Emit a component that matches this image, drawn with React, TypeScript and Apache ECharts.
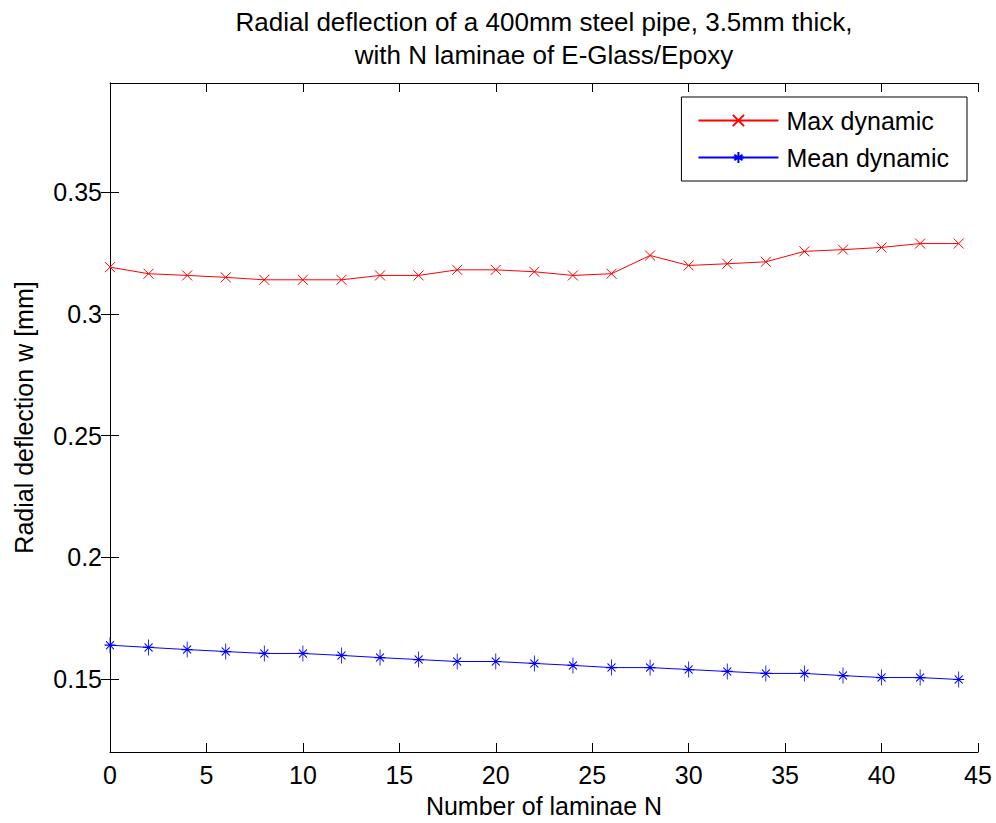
import React, { useEffect, useRef } from "react";
import * as echarts from "echarts";

const laminae = [0, 2, 4, 6, 8, 10, 12, 14, 16, 18, 20, 22, 24, 26, 28, 30, 32, 34, 36, 38, 40, 42, 44];
const maxDynamic = [0.3193, 0.3166, 0.3159, 0.3151, 0.3141, 0.3141, 0.3141, 0.3159, 0.3159, 0.3182, 0.3182, 0.3174, 0.3159, 0.3166, 0.3241, 0.32, 0.3207, 0.3215, 0.3258, 0.3265, 0.3274, 0.329, 0.329];
const meanDynamic = [0.1639, 0.163, 0.1621, 0.1613, 0.1605, 0.1605, 0.1597, 0.1588, 0.158, 0.1572, 0.1572, 0.1564, 0.1556, 0.1547, 0.1547, 0.1539, 0.1531, 0.1523, 0.1523, 0.1514, 0.1506, 0.1506, 0.1498];
const yTicks = [0.15, 0.2, 0.25, 0.3, 0.35];

const FONT = "Liberation Sans, Arial, sans-serif";
const X_SYMBOL = "path://M0,0L10,10M10,0L0,10";
const STAR_SYMBOL = "path://M5.5,0L5.5,16M0,8L11,8M1.5,4L9.5,12M9.5,4L1.5,12";

export default function App() {
  const ref = useRef<HTMLDivElement>(null);
  useEffect(() => {
    if (!ref.current) return;
    const chart = echarts.init(ref.current, null, { renderer: "svg" });
    const axisLine = { show: true, lineStyle: { color: "#000", width: 1 } };
    const fmt = (v: number) => String(Math.round(v * 100) / 100);
    chart.setOption({
      animation: false,
      backgroundColor: "#fff",
      title: {
        text: "Radial deflection of a 400mm steel pipe, 3.5mm thick,\nwith N laminae of E-Glass/Epoxy",
        left: 544,
        top: 5,
        textAlign: "center",
        padding: 0,
        textStyle: { fontFamily: FONT, fontSize: 26, fontWeight: "normal", color: "#000", lineHeight: 33 },
      },
      grid: { left: 110, right: 18, top: 83, bottom: 70, containLabel: false },
      legend: {
        orient: "vertical",
        right: 29,
        top: 97,
        padding: [11, 18, 11, 16],
        itemWidth: 80,
        itemHeight: 14,
        itemGap: 12,
        borderColor: "#000",
        borderWidth: 1,
        backgroundColor: "#fff",
        textStyle: { fontFamily: FONT, fontSize: 25, color: "#000", padding: [0, 0, 0, 3] },
        data: ["Max dynamic", "Mean dynamic"],
      },
      xAxis: [
        {
          type: "value",
          min: 0,
          max: 45,
          interval: 5,
          position: "bottom",
          name: "Number of laminae N",
          nameLocation: "middle",
          nameGap: 41,
          nameTextStyle: { fontFamily: FONT, fontSize: 25, color: "#000" },
          axisLine,
          axisTick: { show: true, inside: true, length: 9, lineStyle: { color: "#000" } },
          axisLabel: { fontFamily: FONT, fontSize: 25, color: "#000", margin: 10 },
          splitLine: { show: false },
        },
        {
          type: "value",
          min: 0,
          max: 45,
          interval: 5,
          position: "top",
          axisLine,
          axisTick: { show: true, inside: true, length: 9, lineStyle: { color: "#000" } },
          axisLabel: { show: false },
          splitLine: { show: false },
        },
      ],
      yAxis: [
        {
          type: "value",
          min: 0.12,
          max: 0.395,
          position: "left",
          name: "Radial deflection w [mm]",
          nameLocation: "middle",
          nameGap: 74,
          nameTextStyle: { fontFamily: FONT, fontSize: 25, color: "#000" },
          axisLine,
          axisTick: { show: true, inside: true, length: 9, customValues: yTicks, lineStyle: { color: "#000" } },
          axisLabel: { fontFamily: FONT, fontSize: 25, color: "#000", margin: 8, customValues: yTicks, formatter: fmt },
          splitLine: { show: false },
        },
        {
          type: "value",
          min: 0.12,
          max: 0.395,
          position: "right",
          axisLine,
          axisTick: { show: true, inside: true, length: 9, customValues: yTicks, lineStyle: { color: "#000" } },
          axisLabel: { show: false },
          splitLine: { show: false },
        },
      ],
      series: [
        {
          name: "Max dynamic",
          type: "line",
          xAxisIndex: 0,
          yAxisIndex: 0,
          data: laminae.map((x, i) => [x, maxDynamic[i]]),
          symbol: X_SYMBOL,
          symbolSize: 10,
          showAllSymbol: true,
          lineStyle: { color: "#ff0000", width: 1 },
          itemStyle: { color: "rgba(0,0,0,0)", borderColor: "#ff0000", borderWidth: 1 },
        },
        {
          name: "Mean dynamic",
          type: "line",
          xAxisIndex: 0,
          yAxisIndex: 0,
          data: laminae.map((x, i) => [x, meanDynamic[i]]),
          symbol: STAR_SYMBOL,
          symbolSize: [11, 16],
          showAllSymbol: true,
          lineStyle: { color: "#0000ff", width: 1 },
          itemStyle: { color: "rgba(0,0,0,0)", borderColor: "#0000ff", borderWidth: 1 },
        },
      ],
    });
    return () => chart.dispose();
  }, []);
  return <div ref={ref} style={{ width: 996, height: 823, position: "absolute", left: 0, top: 0 }} />;
}
